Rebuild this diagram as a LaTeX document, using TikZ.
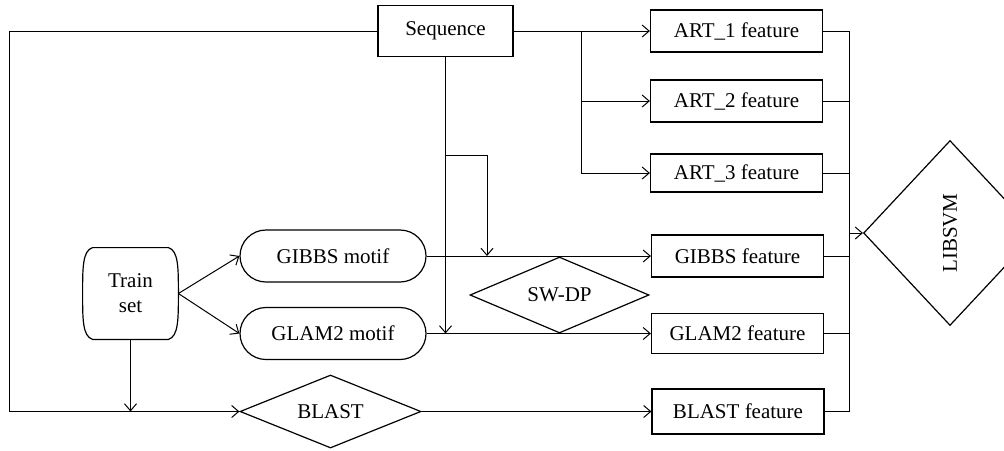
\documentclass[tikz,border=0pt]{standalone}
\usepackage{fontspec}
\setmainfont{Liberation Serif}
\usetikzlibrary{positioning, arrows.meta, shapes.geometric, shapes.misc}

\begin{document}
\begin{tikzpicture}[
    x=0.5pt, y=-0.5pt,
    font=\fontsize{10.5}{12.5}\selectfont,
    caja/.style={
        rectangle,
        draw,
        line width=0.6pt,
        minimum width=86pt,
        minimum height=21pt,
        inner sep=0pt
    },
    motivo/.style={
        rounded rectangle,
        draw,
        line width=0.6pt,
        minimum width=93pt,
        minimum height=26pt,
        inner sep=0pt
    },
    rombo/.style={
        diamond,
        draw,
        line width=0.6pt,
        aspect=2,
        inner sep=0pt
    },
    flecha/.style={
        -{Straight Barb[length=3.5pt, width=6pt]},
        line width=0.5pt
    },
    linea/.style={
        line width=0.5pt
    }
]
\useasboundingbox (0,0) rectangle (1004,450);

\node[caja, minimum width=67.5pt, minimum height=25.5pt] (seq) at (445.5,31) {Sequence};
\node[caja] (art1) at (736.5,31) {ART\_1 feature};
\node[caja] (art2) at (736.5,101) {ART\_2 feature};
\node[caja, minimum height=19pt] (art3) at (736.5,173) {ART\_3 feature};
\node[caja] (gibbsf) at (737.5,256) {GIBBS feature};
\node[caja, minimum height=20pt] (glamf) at (737.5,333.5) {GLAM2 feature};
\node[caja, minimum height=22.5pt] (blastf) at (738,411.5) {BLAST feature};

\node[motivo] (gibbsm) at (333,256) {GIBBS motif};
\node[motivo] (glamm) at (333,333.5) {GLAM2 motif};
\node[minimum width=47.5pt, minimum height=45.5pt, inner sep=0pt, align=center]
      (train) at (130.5,293.5) {Train\\set};
% contorno del train set
\draw[line width=0.6pt]
    ([xshift=5pt]train.north west)
    .. controls ([yshift=-1.5pt]train.north west) and ([yshift=-10pt]train.north west) .. (train.west)
    .. controls ([yshift=10pt]train.south west) and ([yshift=1.5pt]train.south west) .. ([xshift=5pt]train.south west)
    -- ([xshift=-5pt]train.south east)
    .. controls ([yshift=1.5pt]train.south east) and ([yshift=10pt]train.south east) .. (train.east)
    .. controls ([yshift=-10pt]train.north east) and ([yshift=-1.5pt]train.north east) .. ([xshift=-5pt]train.north east)
    -- cycle;

\node[rombo, minimum width=89.5pt, minimum height=38pt] (swdp) at (559.5,295) {SW-DP};
\node[rombo, minimum width=90.5pt, minimum height=36.5pt] (blast) at (330.5,411.5) {BLAST};
\node[rombo, minimum width=63pt, minimum height=92.5pt] (libsvm) at (950,233) {\rotatebox{90}{LIBSVM}};

\coordinate (izq) at (9,31);
\coordinate (rama) at (581,31);
\coordinate (codo1) at (445,155);
\coordinate (codo2) at (487,256);
\coordinate (col) at (849,233);

% entradas
\draw[flecha] (seq.west) -- (izq) |- (blast.west);
\draw[flecha] (train.south) -- (train.south |- blast.west);
\draw[flecha] (seq.east) -- (art1.west);
\draw[flecha] (rama) |- (art2.west);
\draw[flecha] (rama) |- (art3.west);
\draw[flecha] (seq.south) -- (seq.south |- glamm.east);
\draw[flecha] (codo1) -| (codo2);
\draw[flecha] (train.east) -- (gibbsm.west);
\draw[flecha] (train.east) -- (glamm.west);
\draw[flecha] (gibbsm.east) -- (gibbsf.west);
\draw[flecha] (glamm.east) -- (glamf.west);
\draw[flecha] (blast.east) -- (blastf.west);

% salidas
\draw[linea] (art1.east) -- (art1.east -| col) -- (blastf.east -| col) -- (blastf.east);
\draw[linea] (art2.east) -- (art2.east -| col);
\draw[linea] (art3.east) -- (art3.east -| col);
\draw[linea] (gibbsf.east) -- (gibbsf.east -| col);
\draw[linea] (glamf.east) -- (glamf.east -| col);
\draw[flecha] (col) -- (libsvm.west);

\end{tikzpicture}
\end{document}
